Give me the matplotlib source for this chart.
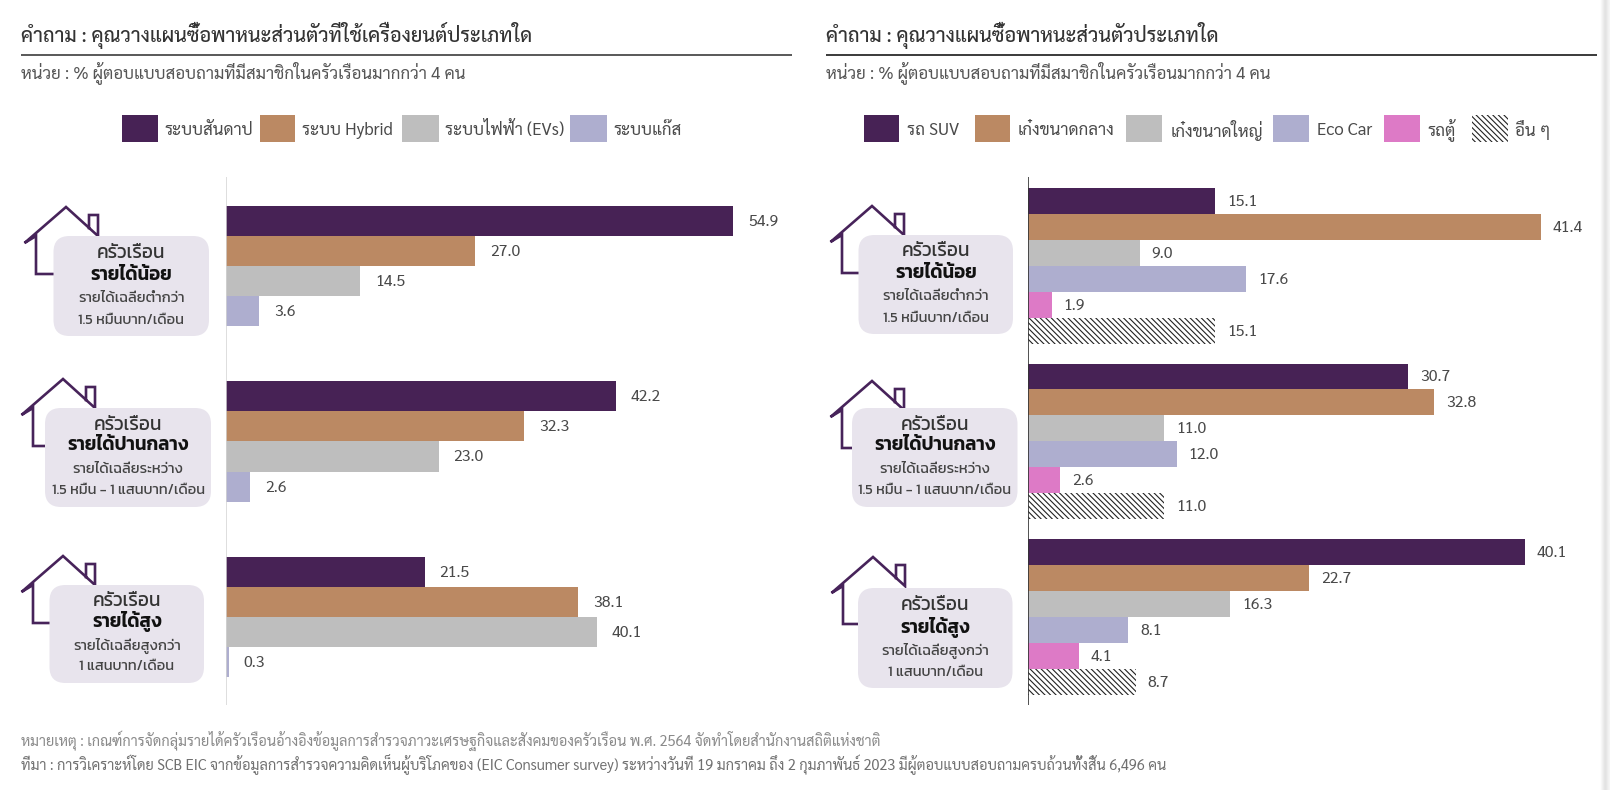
import matplotlib
matplotlib.use('Agg')
import matplotlib.pyplot as plt
import numpy as np
from matplotlib.patches import FancyBboxPatch, Rectangle

plt.rcParams['hatch.linewidth'] = 0.8

THAI = ['Sarabun', 'Thasadith', 'DejaVu Sans']
PILL = ['Kanit', 'Prompt', 'DejaVu Sans']

W, H = 1610, 790

# Engine-type question
engine_title = 'คำถาม : คุณวางแผนซื้อพาหนะส่วนตัวที่ใช้เครื่องยนต์ประเภทใด'
engine_series = ['ระบบสันดาป', 'ระบบ Hybrid', 'ระบบไฟฟ้า (EVs)', 'ระบบแก๊ส']
engine_low = [54.9, 27.0, 14.5, 3.6]
engine_mid = [42.2, 32.3, 23.0, 2.6]
engine_high = [21.5, 38.1, 40.1, 0.3]

# Vehicle-type question
vehicle_title = 'คำถาม : คุณวางแผนซื้อพาหนะส่วนตัวประเภทใด'
vehicle_series = ['รถ SUV', 'เก๋งขนาดกลาง', 'เก๋งขนาดใหญ่', 'Eco Car', 'รถตู้', 'อื่น ๆ']
vehicle_low = [15.1, 41.4, 9.0, 17.6, 1.9, 15.1]
vehicle_mid = [30.7, 32.8, 11.0, 12.0, 2.6, 11.0]
vehicle_high = [40.1, 22.7, 16.3, 8.1, 4.1, 8.7]

unit_text = 'หน่วย : % ผู้ตอบแบบสอบถามที่มีสมาชิกในครัวเรือนมากกว่า 4 คน'
note_text = ('หมายเหตุ : เกณฑ์การจัดกลุ่มรายได้ครัวเรือนอ้างอิงข้อมูลการสำรวจภาวะเศรษฐกิจและสังคม'
             'ของครัวเรือน พ.ศ. 2564 จัดทำโดยสำนักงานสถิติแห่งชาติ')
source_text = ('ที่มา : การวิเคราะห์โดย SCB EIC จากข้อมูลการสำรวจความคิดเห็นผู้บริโภคของ (EIC Consumer survey) '
               'ระหว่างวันที่ 19 มกราคม ถึง 2 กุมภาพันธ์ 2023 มีผู้ตอบแบบสอบถามครบถ้วนทั้งสิ้น 6,496 คน')

group_head = 'ครัวเรือน'
group_names = ['รายได้น้อย', 'รายได้ปานกลาง', 'รายได้สูง']
group_line3 = ['รายได้เฉลี่ยต่ำกว่า', 'รายได้เฉลี่ยระหว่าง', 'รายได้เฉลี่ยสูงกว่า']
group_line4 = ['1.5 หมื่นบาท/เดือน', '1.5 หมื่น - 1 แสนบาท/เดือน', '1 แสนบาท/เดือน']

PURPLE, BROWN, GREY, LAVENDER, PINK = '#472255', '#bb8963', '#bebebe', '#aeaecf', '#dd7ac6'
INK, SOFT = '#4a4a4a', '#e8e4ed'

fig = plt.figure(figsize=(W / 100, H / 100), dpi=100, facecolor='white')


def px_axes(x0, x1, px_per_unit):
    """Axes spanning x0..x1 px of the figure with a percent x scale and pixel y."""
    ax = fig.add_axes([x0 / W, 0, (x1 - x0) / W, 1])
    ax.set_xlim(0, (x1 - x0) / px_per_unit)
    ax.set_ylim(H, 0)
    ax.axis('off')
    ax.patch.set_alpha(0)
    return ax


def draw_group(ax, values, top, bar_h, colors, gap_px):
    for i, (v, c) in enumerate(zip(values, colors)):
        y = top + i * bar_h
        if c is None:
            ax.barh(y, v, height=bar_h, align='edge', facecolor='white',
                    edgecolor='#222222', hatch='\\\\\\\\\\\\', linewidth=0)
        else:
            ax.barh(y, v, height=bar_h, align='edge', color=c, linewidth=0)
        ax.annotate(f'{v:.1f}', (v, y + bar_h / 2), xytext=(gap_px * 0.72, -0.7),
                    textcoords='offset points', va='center', ha='left',
                    fontsize=11.4, color=INK, family=THAI)


left = px_axes(226, 800, 9.24)
for vals, top in zip([engine_low, engine_mid, engine_high], [205.5, 381, 556.5]):
    draw_group(left, vals, top, 30.2, [PURPLE, BROWN, GREY, LAVENDER], 15)
left.plot([0, 0], [177, 705], color='#d4d4d4', lw=1.1, solid_capstyle='butt')

right = px_axes(1028, 1600, 12.39)
for vals, top in zip([vehicle_low, vehicle_mid, vehicle_high], [188, 363.5, 539]):
    draw_group(right, vals, top, 25.95, [PURPLE, BROWN, GREY, LAVENDER, PINK, None], 12)
right.plot([0, 0], [177, 705], color='#333333', lw=1.2, solid_capstyle='butt')

# Overlay in figure pixels for headings, legends and group badges
ov = fig.add_axes([0, 0, 1, 1], zorder=5)
ov.set_xlim(0, W)
ov.set_ylim(H, 0)
ov.axis('off')
ov.patch.set_alpha(0)


def heading(x0, x1, title, rule_color):
    ov.text(x0, 35.5, title, fontsize=14.3, fontweight='medium', color='#333333',
            family=THAI, va='center', ha='left')
    ov.plot([x0, x1], [55, 55], color=rule_color, lw=1.25, solid_capstyle='butt')
    ov.text(x0, 72.5, unit_text, fontsize=12.2, color='#555555', family=THAI,
            va='center', ha='left')


heading(20.5, 792, engine_title, '#444444')
heading(826, 1597, vehicle_title, '#222222')


def legend_item(x0, x1, tx, label, color):
    if color is None:
        ov.add_patch(Rectangle((x0, 115), x1 - x0, 27, facecolor='white',
                               edgecolor='#222222', hatch='\\\\\\\\\\\\', linewidth=0))
    else:
        ov.add_patch(Rectangle((x0, 115), x1 - x0, 27, facecolor=color, linewidth=0))
    ov.text(tx, 130.5, label, fontsize=12.2, color=INK, family=THAI, va='center', ha='left')


for (a, b, t), lab, c in zip([(122, 158, 164), (260, 295, 302), (402, 439, 445), (570, 607, 613)],
                             engine_series, [PURPLE, BROWN, GREY, LAVENDER]):
    legend_item(a, b, t, lab, c)
for (a, b, t), lab, c in zip([(864, 899, 907), (974.5, 1010, 1018), (1126, 1162, 1171),
                              (1273, 1309, 1317), (1384, 1420, 1427), (1472, 1508, 1515)],
                             vehicle_series, [PURPLE, BROWN, GREY, LAVENDER, PINK, None]):
    legend_item(a, b, t, lab, c)


def house(ax_, ay, end_x):
    xs = [ax_ + d for d in (-18, -30, -30, -41.5, 0, 32, 32, 23, 23)]
    ys = [ay + d for d in (67, 67, 29, 36, 0, 29, 8, 8, 21)]
    xs[0] = end_x
    ov.plot(xs, ys, color='#47235a', lw=1.9, solid_joinstyle='miter', zorder=2)


def badge(x0, x1, y0, y1, k, dy):
    ov.add_patch(FancyBboxPatch((x0 + 16, y0 + 16), x1 - x0 - 32, y1 - y0 - 32,
                                boxstyle='round,pad=16,rounding_size=16',
                                facecolor=SOFT, edgecolor='none', zorder=3))
    cx = (x0 + x1) / 2
    ov.text(cx, y0 + 16 + dy, group_head, fontsize=13.6, color='#333333', family=PILL,
            fontweight='normal', ha='center', va='center', zorder=4)
    ov.text(cx, y0 + 37 + dy, group_names[k], fontsize=13.4, color='#111111', family=PILL,
            fontweight='semibold', ha='center', va='center', zorder=4)
    ov.text(cx, y0 + 60.5 + dy, group_line3[k], fontsize=10.6, color='#444444', family=PILL,
            fontweight='normal', ha='center', va='center', zorder=4)
    ov.text(cx, y0 + 82 + dy, group_line4[k], fontsize=10.5, color='#444444', family=PILL,
            fontweight='normal', ha='center', va='center', zorder=4)


for k, (apex, box, dy) in enumerate(zip([(66, 207), (63, 379), (63, 556)],
                                        [(53.5, 209, 236, 336), (45, 211, 408, 507), (49.5, 204, 585, 683)],
                                        [2, 1, 0])):
    house(apex[0], apex[1], box[0] + 4)
    badge(*box, k, dy)
for k, (apex, box, dy) in enumerate(zip([(872, 206), (872, 381), (873, 557)],
                                        [(858.5, 1013, 235, 334), (852, 1017.5, 408, 507), (858, 1012.5, 588, 688)],
                                        [1, 1, 2])):
    house(apex[0], apex[1], box[0] + 4)
    badge(*box, k, dy)

ov.text(21, 741, note_text, fontsize=10.45, color='#8a8a8a', family=THAI, va='center', ha='left')
ov.text(21, 765, source_text, fontsize=10.5, color='#707070', family=THAI, va='center', ha='left')

# Soft shaded strip along the right edge of the page
strip = np.array([[0.99, 0.96, 0.93, 0.90, 0.89, 0.91, 0.94, 0.96]])
ov.imshow(strip, cmap='gray', vmin=0, vmax=1, aspect='auto', extent=(1600, 1610, H, 0),
          interpolation='bilinear', zorder=1)
ov.set_xlim(0, W)
ov.set_ylim(H, 0)

fig.savefig('out.png', dpi=100)
